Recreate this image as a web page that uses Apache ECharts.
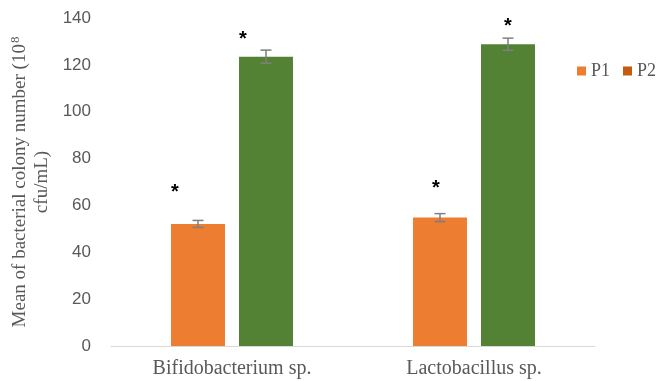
<!DOCTYPE html>
<html>
<head>
<meta charset="utf-8">
<script src="https://cdn.jsdelivr.net/npm/echarts@6/dist/echarts.min.js"></script>
<style>html,body{margin:0;padding:0;background:#fff;}#c{width:657px;height:381px;}</style>
</head>
<body>
<div id="c"></div>
<script>
const categories = ['Bifidobacterium sp.', 'Lactobacillus sp.'];
const p1Values = [52.1, 54.8];
const p2Values = [123.5, 128.8];
const p1Errors = [1.5, 1.7];
const p2Errors = [2.8, 2.6];
const p1StarAt = [67.5, 69.5];
const p2StarAt = [133, 138.5];
const yTicks = [0, 20, 40, 60, 80, 100, 120, 140];

const BAR_FRAC = 0.223, GAP_FRAC = 0.26;
const starNudgeP1 = [-23, -4];
const starNudgeP2 = [-23, 0];

function barCenter(api, cat, which) {
  const c = api.coord([cat, 0])[0];
  const cw = api.size([1, 0])[0];
  const bw = cw * BAR_FRAC;
  const off = (bw + bw * GAP_FRAC) / 2;
  return which === 0 ? c - off : c + off;
}

function errorSeries(vals, errs, which) {
  return {
    type: 'custom', silent: true, z: 5,
    data: categories.map((c, i) => [i, vals[i], errs[i]]),
    renderItem: function (params, api) {
      const i = api.value(0);
      const x = barCenter(api, i, which);
      const hi = api.coord([i, api.value(1) + api.value(2)])[1];
      const lo = api.coord([i, api.value(1) - api.value(2)])[1];
      const cap = 5.5;
      const st = { stroke: '#7f7f7f', lineWidth: 1.5 };
      return { type: 'group', children: [
        { type: 'line', shape: { x1: x, y1: hi, x2: x, y2: lo }, style: st },
        { type: 'line', shape: { x1: x - cap, y1: hi, x2: x + cap, y2: hi }, style: st },
        { type: 'line', shape: { x1: x - cap, y1: lo, x2: x + cap, y2: lo }, style: st }
      ]};
    }
  };
}

function starSeries(pos, nudge, which) {
  return {
    type: 'custom', silent: true, z: 6,
    data: categories.map((c, i) => [i, pos[i]]),
    renderItem: function (params, api) {
      const i = api.value(0);
      const x = barCenter(api, i, which) + nudge[i];
      const y = api.coord([i, api.value(1)])[1];
      return { type: 'text', style: { text: '*', x: x, y: y + 5, align: 'center', verticalAlign: 'middle',
        fontSize: 20, fontWeight: 'bold', fontFamily: 'Liberation Sans', fill: '#000' } };
    }
  };
}

const legendText = { fontFamily: 'Liberation Serif', fontSize: 18, color: '#595959' };
const chart = echarts.init(document.getElementById('c'));
chart.setOption({
  animation: false,
  backgroundColor: '#fff',
  grid: { left: 111, right: 62, top: 18, bottom: 35, containLabel: false },
  legend: [
    { left: 572, top: 57, itemWidth: 9, itemHeight: 9, icon: 'rect', textStyle: legendText,
      data: [{ name: 'P1', itemStyle: { color: '#ed7d31' } }] },
    { left: 618, top: 57, itemWidth: 9, itemHeight: 9, icon: 'rect', textStyle: legendText,
      data: [{ name: 'P2', itemStyle: { color: '#c55a11' } }] }
  ],
  xAxis: {
    type: 'category', data: categories,
    axisLine: { lineStyle: { color: '#d9d9d9', width: 1 } },
    axisTick: { show: false },
    axisLabel: { fontFamily: 'Liberation Serif', fontSize: 20, color: '#595959', margin: 13 }
  },
  yAxis: {
    type: 'value', min: yTicks[0], max: yTicks[yTicks.length - 1], interval: 20,
    splitLine: { show: false }, axisLine: { show: false }, axisTick: { show: false },
    axisLabel: { fontFamily: 'Liberation Sans', fontSize: 17, color: '#595959', margin: 20 },
    name: '{a|Mean of bacterial colony number (10}{s|8}\n{a|cfu/mL)}',
    nameLocation: 'middle', nameGap: 58, nameRotate: 90,
    nameTextStyle: {
      rich: {
        a: { fontFamily: 'Liberation Serif', fontSize: 19, color: '#595959', lineHeight: 22 },
        s: { fontFamily: 'Liberation Serif', fontSize: 13, color: '#595959', verticalAlign: 'bottom', padding: [0, 0, 9, 1], lineHeight: 22 }
      }
    }
  },
  series: [
    { name: 'P1', type: 'bar', data: p1Values, barWidth: (BAR_FRAC * 100) + '%', barGap: (GAP_FRAC * 100) + '%',
      itemStyle: { color: '#ed7d31' } },
    { name: 'P2', type: 'bar', data: p2Values, barWidth: (BAR_FRAC * 100) + '%', barGap: (GAP_FRAC * 100) + '%',
      itemStyle: { color: '#548235' } },
    errorSeries(p1Values, p1Errors, 0),
    errorSeries(p2Values, p2Errors, 1),
    starSeries(p1StarAt, starNudgeP1, 0),
    starSeries(p2StarAt, starNudgeP2, 1)
  ]
});
</script>
</body>
</html>
